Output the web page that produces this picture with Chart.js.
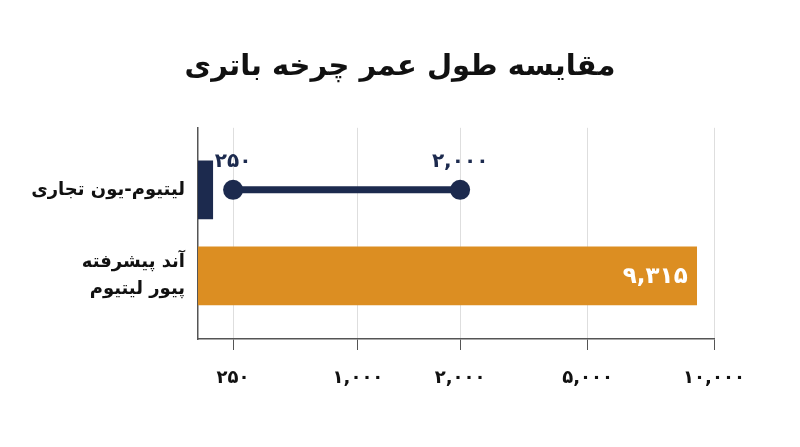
<!DOCTYPE html>
<html lang="fa">
<head>
<meta charset="utf-8">
<script src="https://cdn.jsdelivr.net/npm/chart.js@4/dist/chart.umd.min.js"></script>
<style>
  html, body { margin: 0; padding: 0; background: #fff; }
  #wrap { width: 800px; height: 447px; position: relative; }
</style>
</head>
<body>
<div id="wrap"><canvas id="grafica"></canvas></div>
<script>
const TITULO = 'مقایسه طول عمر چرخه باتری';
const CATEGORIAS = [['لیتیوم-یون تجاری'], ['آند پیشرفته', 'پیور لیتیوم']];
const VALORES_BARRA = [105, 9315];
const MOSTRAR_VALOR = [false, true];
const RANGO_TIPICO = [250, 2000];
const TICKS_X = [250, 1000, 2000, 5000, 10000];

const NAVY = '#1c2a4e';
const NARANJA = '#dc8e22';
const FUENTE = '"DejaVu Sans", sans-serif';

// el eje no es lineal: tramos rectos entre cortes
const CORTES = [0, 250, 1000, 2000, 5000, 10000];
const FRACCIONES = [0, 0.068, 0.31, 0.508, 0.755, 1];

const aDecimal = (v) => {
    if (v <= CORTES[0]) return 0;
    for (let i = 1; i < CORTES.length; i++) {
        if (v <= CORTES[i]) {
            const t = (v - CORTES[i - 1]) / (CORTES[i] - CORTES[i - 1]);
            return FRACCIONES[i - 1] + t * (FRACCIONES[i] - FRACCIONES[i - 1]);
        }
    }
    return 1;
};

const deDecimal = (d) => {
    for (let i = 1; i < FRACCIONES.length; i++) {
        if (d <= FRACCIONES[i]) {
            const t = (d - FRACCIONES[i - 1]) / (FRACCIONES[i] - FRACCIONES[i - 1]);
            return CORTES[i - 1] + t * (CORTES[i] - CORTES[i - 1]);
        }
    }
    return CORTES[CORTES.length - 1];
};

class EscalaTramos extends Chart.LinearScale {
    buildTicks() {
        return TICKS_X.map(value => ({ value }));
    }
    getPixelForValue(value) {
        return this.getPixelForDecimal(aDecimal(value));
    }
    getValueForPixel(pixel) {
        return deDecimal(this.getDecimalForPixel(pixel));
    }
}
EscalaTramos.id = 'tramos';
EscalaTramos.defaults = Chart.LinearScale.defaults;
Chart.register(EscalaTramos);

const DIGITOS = '۰۱۲۳۴۵۶۷۸۹';
const aPersa = (n) => n.toLocaleString('en-US').replace(/\d/g, d => DIGITOS[d]);

const etiquetas = {
    id: 'etiquetas',
    afterDatasetsDraw(chart) {
        const ctx = chart.ctx;
        ctx.save();
        ctx.textBaseline = 'middle';

        const puntos = chart.getDatasetMeta(0).data;
        ctx.font = `bold 20px ${FUENTE}`;
        ctx.fillStyle = NAVY;
        ctx.textAlign = 'center';
        puntos.forEach((p, i) => ctx.fillText(aPersa(RANGO_TIPICO[i]), p.x, p.y - 28));

        const barras = chart.getDatasetMeta(1).data;
        ctx.font = `bold 23px ${FUENTE}`;
        ctx.fillStyle = '#ffffff';
        ctx.textAlign = 'right';
        barras.forEach((b, i) => {
            if (MOSTRAR_VALOR[i]) ctx.fillText(aPersa(VALORES_BARRA[i]), b.x - 9, b.y + 1);
        });
        ctx.restore();
    }
};

new Chart(document.getElementById('grafica'), {
    type: 'bar',
    data: {
        datasets: [
            {
                type: 'line',
                data: RANGO_TIPICO.map(v => ({ x: v, y: 0 })),
                borderColor: NAVY,
                borderWidth: 7,
                pointRadius: 10,
                pointBackgroundColor: NAVY,
                pointBorderWidth: 0,
                pointHoverRadius: 10
            },
            {
                data: VALORES_BARRA.map((v, i) => ({ x: v, y: i })),
                backgroundColor: [NAVY, NARANJA],
                borderWidth: 0,
                barThickness: 58
            }
        ]
    },
    options: {
        indexAxis: 'y',
        responsive: true,
        maintainAspectRatio: false,
        animation: false,
        layout: { padding: 0 },
        plugins: {
            legend: { display: false },
            tooltip: { enabled: false },
            title: {
                display: true,
                text: TITULO,
                color: '#111',
                font: { family: FUENTE, size: 29, weight: 'bold' },
                padding: { top: 50, bottom: 43 }
            }
        },
        scales: {
            x: {
                type: 'tramos',
                min: 0,
                max: 10000,
                grid: { color: '#dedede', lineWidth: 1, tickColor: '#555', tickLength: 11 },
                border: { color: '#555', width: 1.5 },
                ticks: {
                    color: '#111',
                    padding: 18,
                    autoSkip: false,
                    maxRotation: 0,
                    font: { family: FUENTE, size: 18, weight: 'bold' },
                    callback: (v) => aPersa(v)
                },
                afterFit: (s) => { s.height = 108; }
            },
            y: {
                type: 'linear',
                reverse: true,
                offset: false,
                min: -0.721,
                max: 1.733,
                grid: { display: false, offset: false },
                border: { color: '#555', width: 1.5 },
                ticks: {
                    stepSize: 1,
                    includeBounds: false,
                    autoSkip: false,
                    color: '#111',
                    padding: 5,
                    font: { family: FUENTE, size: 18, weight: 'bold', lineHeight: 1.5 },
                    callback: (v) => (Number.isInteger(v) && CATEGORIAS[v]) ? CATEGORIAS[v] : ''
                },
                afterFit: (s) => { s.width = 198; }
            },
            margenDerecho: {
                type: 'linear',
                position: 'right',
                grid: { display: false },
                border: { display: false },
                ticks: { display: false },
                afterFit: (s) => { s.width = 86; }
            }
        }
    },
    plugins: [etiquetas]
});
</script>
</body>
</html>
